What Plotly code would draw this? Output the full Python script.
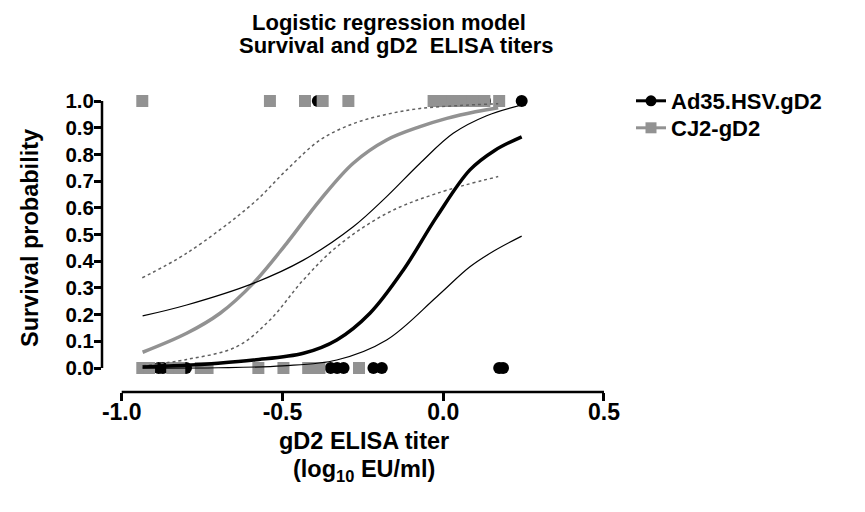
import plotly.graph_objects as go

# ---------------- data ----------------
# observed outcomes (survived = 1, died = 0) vs log10 titer
ad35_surv_x = [-0.39, 0.13, 0.244]
ad35_dead_x = [-0.885, -0.872, -0.80, -0.35, -0.33, -0.31, -0.217, -0.191, 0.174, 0.186]
cj2_surv_x = [-0.936, -0.539, -0.430, -0.375, -0.295, -0.030, -0.010, 0.010, 0.030,
              0.050, 0.070, 0.090, 0.110, 0.128, 0.174]
cj2_dead_x = [-0.936, -0.915, -0.843, -0.821, -0.754, -0.733, -0.575, -0.497,
              -0.420, -0.385, -0.262]

# fitted logistic curves and 95% confidence bands
ad35_fit_x = [-0.935, -0.80, -0.70, -0.59, -0.435, -0.331, -0.228, -0.124, -0.020, 0.083, 0.16, 0.244]
ad35_fit_y = [0.004, 0.010, 0.018, 0.030, 0.055, 0.105, 0.205, 0.367, 0.567, 0.742, 0.815, 0.866]
ad35_up_x = [-0.935, -0.798, -0.591, -0.435, -0.280, -0.176, -0.072, 0.031, 0.135, 0.244]
ad35_up_y = [0.195, 0.236, 0.317, 0.404, 0.529, 0.642, 0.767, 0.879, 0.945, 0.985]
ad35_lo_x = [-0.935, -0.70, -0.50, -0.331, -0.176, -0.020, 0.083, 0.160, 0.244]
ad35_lo_y = [0.000, 0.001, 0.008, 0.030, 0.105, 0.267, 0.379, 0.440, 0.494]

cj2_fit_x = [-0.935, -0.798, -0.694, -0.591, -0.487, -0.383, -0.280, -0.176, -0.072, 0.011, 0.100, 0.171]
cj2_fit_y = [0.059, 0.130, 0.205, 0.317, 0.467, 0.629, 0.767, 0.854, 0.904, 0.935, 0.960, 0.975]
cj2_up_x = [-0.936, -0.798, -0.591, -0.487, -0.383, -0.280, -0.176, -0.072, 0.050, 0.171]
cj2_up_y = [0.338, 0.430, 0.617, 0.742, 0.854, 0.915, 0.950, 0.972, 0.983, 0.990]
cj2_lo_x = [-0.935, -0.798, -0.642, -0.539, -0.435, -0.331, -0.176, -0.020, 0.171]
cj2_lo_y = [0.008, 0.032, 0.080, 0.180, 0.330, 0.454, 0.579, 0.654, 0.717]

x_ticks = [-1.0, -0.5, 0.0, 0.5]
x_ticktext = ["-1.0", "-0.5", "0.0", "0.5"]
y_ticks = [i / 10 for i in range(11)]
y_ticktext = ["%.1f" % v for v in y_ticks]

series_names = ["Ad35.HSV.gD2", "CJ2-gD2"]

# ---------------- styling ----------------
BLACK = "#000000"
GRAY = "#929292"
FONT = "Arial, Liberation Sans, sans-serif"

# figure sized to fit inside the 865x512 window with the page's 8px body margin
W, H = 857, 504
ML, MR, MT, MB = 94, 253, 87, 120
PW, PH = W - ML - MR, H - MT - MB


def px_x(px):  # figure px -> paper x
    return (px - ML) / PW


def px_y(py):  # figure px -> paper y
    return 1 - (py - MT) / PH


fig = go.Figure()

# legend entries (line + marker), one legend per row
fig.add_trace(go.Scatter(x=[None], y=[None], mode="lines+markers", name=series_names[0],
                         legend="legend",
                         line=dict(color=BLACK, width=3),
                         marker=dict(symbol="circle", size=11, color=BLACK)))
fig.add_trace(go.Scatter(x=[None], y=[None], mode="lines+markers", name=series_names[1],
                         legend="legend2",
                         line=dict(color=GRAY, width=3),
                         marker=dict(symbol="square", size=11, color=GRAY)))

# observed points
fig.add_trace(go.Scatter(x=ad35_surv_x + ad35_dead_x,
                         y=[1] * len(ad35_surv_x) + [0] * len(ad35_dead_x),
                         mode="markers", showlegend=False, cliponaxis=False,
                         marker=dict(symbol="circle", size=12, color=BLACK)))
fig.add_trace(go.Scatter(x=cj2_surv_x + cj2_dead_x,
                         y=[1] * len(cj2_surv_x) + [0] * len(cj2_dead_x),
                         mode="markers", showlegend=False, cliponaxis=False,
                         marker=dict(symbol="square", size=12, color=GRAY)))


# curves
def add_curve(x, y, color, width, dash="solid"):
    fig.add_trace(go.Scatter(x=x, y=y, mode="lines", showlegend=False,
                             line=dict(color=color, width=width, dash=dash, shape="spline"),
                             hoverinfo="skip"))


add_curve(cj2_up_x, cj2_up_y, "#606060", 1.5, "dot")
add_curve(cj2_lo_x, cj2_lo_y, "#606060", 1.5, "dot")
add_curve(cj2_fit_x, cj2_fit_y, GRAY, 3.5)
add_curve(ad35_up_x, ad35_up_y, BLACK, 1.2)
add_curve(ad35_lo_x, ad35_lo_y, BLACK, 1.2)
add_curve(ad35_fit_x, ad35_fit_y, BLACK, 3.5)

# axis lines (GraphPad style, detached)
fig.add_shape(type="line", xref="x", yref="paper", x0=x_ticks[0], x1=x_ticks[-1], y0=0, y1=0,
              line=dict(color=BLACK, width=2.5))
fig.add_shape(type="line", xref="paper", yref="y", x0=0, x1=0, y0=y_ticks[0], y1=y_ticks[-1],
              line=dict(color=BLACK, width=2.5))

# titles
title_font = dict(family=FONT, size=22, color=BLACK, weight="bold")
fig.add_annotation(text="Logistic regression model", xref="paper", yref="paper",
                   x=px_x(381), y=px_y(0), xanchor="center", yanchor="top",
                   showarrow=False, font=title_font)
fig.add_annotation(text="Survival and gD2  ELISA titers", xref="paper", yref="paper",
                   x=px_x(388), y=px_y(38), xanchor="center", yanchor="middle",
                   showarrow=False, font=title_font)

axis_title_font = dict(family=FONT, size=23.5, color=BLACK, weight="bold")
fig.add_annotation(text="gD2 ELISA titer", xref="paper", yref="paper",
                   x=px_x(356), y=px_y(433), xanchor="center", yanchor="middle",
                   showarrow=False, font=axis_title_font)
fig.add_annotation(text="(log<sub>10</sub> EU/ml)", xref="paper", yref="paper",
                   x=px_x(356), y=px_y(462), xanchor="center", yanchor="middle",
                   showarrow=False, font=axis_title_font)
fig.add_annotation(text="Survival probability", textangle=-90,
                   xref="paper", yref="paper", x=px_x(22), y=px_y(230),
                   xanchor="center", yanchor="middle", showarrow=False,
                   font=axis_title_font)

legend_style = dict(xref="container", yref="container", xanchor="left", yanchor="middle",
                    bgcolor="rgba(0,0,0,0)", itemwidth=30,
                    font=dict(family=FONT, size=22, color=BLACK, weight="bold"))

fig.update_layout(
    template="none",
    width=W, height=H,
    margin=dict(l=ML, r=MR, t=MT, b=MB, autoexpand=False),
    plot_bgcolor="white", paper_bgcolor="white",
    font=dict(family=FONT, color=BLACK),
    xaxis=dict(range=[-1.0613, 0.5249], showgrid=False, zeroline=False, showline=False,
               automargin=False,
               tickvals=x_ticks, ticktext=x_ticktext, ticks="outside", ticklen=8,
               tickwidth=2.5, tickcolor=BLACK, ticklabelstandoff=-9,
               tickfont=dict(family=FONT, size=23, color=BLACK, weight="bold")),
    yaxis=dict(range=[-0.0899, 1.0225], showgrid=False, zeroline=False, showline=False,
               automargin=False,
               tickvals=y_ticks, ticktext=y_ticktext, ticks="outside", ticklen=7,
               tickwidth=2.5, tickcolor=BLACK, ticklabelstandoff=-4,
               tickfont=dict(family=FONT, size=20.5, color=BLACK, weight="bold")),
    legend=dict(x=623 / W, y=1 - 93 / H, **legend_style),
    legend2=dict(x=623 / W, y=1 - 120 / H, **legend_style),
    showlegend=True,
)

fig.write_html("out.html")
